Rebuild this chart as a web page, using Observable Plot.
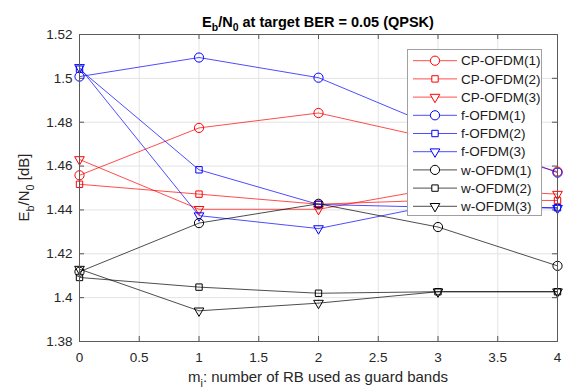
<!DOCTYPE html>
<html>
<head>
<meta charset="utf-8">
<script src="https://cdn.jsdelivr.net/npm/d3@7"></script>
<script src="https://cdn.jsdelivr.net/npm/@observablehq/plot@0.6"></script>
<style>
  html, body { margin: 0; padding: 0; background: #fff; }
  #wrap { position: relative; width: 574px; height: 390px; font-family: "Liberation Sans", Arial, sans-serif; }
  #legend { position: absolute; }
</style>
</head>
<body>
<div id="wrap"></div>
<script>
// ---- data ----
const mi = [0, 1, 2, 3, 4];
const seriesNames = ["CP-OFDM(1)", "CP-OFDM(2)", "CP-OFDM(3)", "f-OFDM(1)", "f-OFDM(2)", "f-OFDM(3)", "w-OFDM(1)", "w-OFDM(2)", "w-OFDM(3)"];
const seriesColors = ["#ff0000", "#ff0000", "#ff0000", "#0000ff", "#0000ff", "#0000ff", "#000000", "#000000", "#000000"];
const seriesSymbols = ["circle", "square", "triangle", "circle", "square", "triangle", "circle", "square", "triangle"];
const cp1 = [1.4558, 1.4774, 1.4842, 1.4720, 1.4575];
const cp2 = [1.4517, 1.4472, 1.4426, 1.4445, 1.4443];
const cp3 = [1.4630, 1.4403, 1.4403, 1.4500, 1.4472];
const f1  = [1.5008, 1.5095, 1.5003, 1.4775, 1.4570];
const f2  = [1.5042, 1.4583, 1.4425, 1.4412, 1.4410];
const f3  = [1.5050, 1.4374, 1.4315, 1.4425, 1.4408];
const w1  = [1.4118, 1.4340, 1.4428, 1.4322, 1.4145];
const w2  = [1.4092, 1.4048, 1.4020, 1.4027, 1.4027];
const w3  = [1.4130, 1.3940, 1.3975, 1.4027, 1.4027];
const seriesValues = [cp1, cp2, cp3, f1, f2, f3, w1, w2, w3];
const xTicks = [0, 0.5, 1, 1.5, 2, 2.5, 3, 3.5, 4];
const yTicks = [1.38, 1.40, 1.42, 1.44, 1.46, 1.48, 1.50, 1.52];

// tidy table
const rows = [];
seriesNames.forEach((name, i) => {
  seriesValues[i].forEach((v, j) => rows.push({x: mi[j], y: v, name, i}));
});

const W = 574, H = 390;
const mL = 79, mR = 17, mT = 34, mB = 49;
const plotH = H - mT - mB, plotW = W - mL - mR;
const textColor = "#262626";

const lineMarks = seriesNames.map((name, i) =>
  Plot.line(rows.filter(r => r.i === i), {x: "x", y: "y", stroke: seriesColors[i], strokeWidth: 0.7})
);
const symR = {circle: 4.6, square: 3.6, triangle: 3.6};
const dotMarks = seriesNames.map((name, i) =>
  Plot.dot(rows.filter(r => r.i === i), {
    x: "x", y: "y", stroke: seriesColors[i], fill: "none", strokeWidth: 1,
    symbol: seriesSymbols[i], r: symR[seriesSymbols[i]],
    rotate: seriesSymbols[i] === "triangle" ? 180 : 0
  })
);

const chart = Plot.plot({
  width: W, height: H,
  marginLeft: mL, marginRight: mR, marginTop: mT, marginBottom: mB,
  style: {fontFamily: '"Liberation Sans", Arial, sans-serif', fontSize: "13.5px", color: textColor, background: "#fff"},
  x: {domain: [0, 4]},
  y: {domain: [1.38, 1.52]},
  marks: [
    Plot.gridX(xTicks, {stroke: "#e3e3e3", strokeOpacity: 1}),
    Plot.gridY(yTicks, {stroke: "#e3e3e3", strokeOpacity: 1}),
    Plot.tickX(xTicks, {x: d => d, stroke: "#555", insetTop: plotH - 5}),
    Plot.tickX(xTicks, {x: d => d, stroke: "#555", insetBottom: plotH - 5}),
    Plot.tickY(yTicks, {y: d => d, stroke: "#555", insetRight: plotW - 5}),
    Plot.tickY(yTicks, {y: d => d, stroke: "#555", insetLeft: plotW - 5}),
    Plot.axisX(xTicks, {anchor: "bottom", tickSize: 0, tickPadding: 11, label: null, tickFormat: d => String(d), fill: textColor}),
    Plot.axisY(yTicks, {anchor: "left", tickSize: 0, tickPadding: 7, label: null, tickFormat: d => String(+d.toFixed(2)), fill: textColor}),
    ...lineMarks,
    ...dotMarks,
    Plot.frame({stroke: "#5a5a5a", strokeWidth: 1})
  ]
});

document.getElementById("wrap").appendChild(chart);

// text with subscripts (title & axis labels)
const svg = d3.select(chart);
function subText(g, parts, size) {
  let shifted = false;
  parts.forEach(p => {
    if (typeof p === "string") {
      g.append("tspan").attr("dy", shifted ? -size * 0.3 : 0).text(p);
      shifted = false;
    } else {
      g.append("tspan").attr("font-size", size * 0.72).attr("dy", size * 0.3).text(p.sub);
      shifted = true;
    }
  });
}
const title = svg.append("text")
  .attr("x", mL + plotW / 2).attr("y", 27)
  .attr("text-anchor", "middle").attr("font-size", 14.5).attr("font-weight", "bold").attr("fill", "#000");
subText(title, ["E", {sub: "b"}, "/N", {sub: "0"}, " at target BER = 0.05 (QPSK)"], 14.5);

const xl = svg.append("text")
  .attr("x", mL + plotW / 2).attr("y", 382)
  .attr("text-anchor", "middle").attr("font-size", 15).attr("fill", textColor);
subText(xl, ["m", {sub: "i"}, ": number of RB used as guard bands"], 15);

const yl = svg.append("text")
  .attr("transform", `translate(29,${mT + plotH / 2}) rotate(-90)`)
  .attr("text-anchor", "middle").attr("font-size", 15).attr("fill", textColor);
subText(yl, ["E", {sub: "b"}, "/N", {sub: "0"}, " [dB]"], 15);

// legend (inside plot, upper right)
const lg = d3.select("#wrap").append("svg").attr("id", "legend")
  .attr("width", 136).attr("height", 168)
  .style("left", "407px").style("top", "49px");
lg.append("rect").attr("x", 0.5).attr("y", 0.5).attr("width", 134).attr("height", 166)
  .attr("fill", "#fff").attr("stroke", "#a0a0a0");
const symGen = {circle: d3.symbolCircle, square: d3.symbolSquare, triangle: d3.symbolTriangle};
seriesNames.forEach((name, i) => {
  const cy = 11.7 + i * 18.2;
  const g = lg.append("g").attr("transform", `translate(0,${cy})`);
  g.append("line").attr("x1", 6).attr("x2", 50).attr("y1", 0).attr("y2", 0)
    .attr("stroke", seriesColors[i]).attr("stroke-width", 0.7);
  const s = seriesSymbols[i];
  const r = symR[s];
  g.append("path").attr("d", d3.symbol(symGen[s], Math.PI * r * r)())
    .attr("transform", `translate(28,0) rotate(${s === "triangle" ? 180 : 0})`)
    .attr("fill", "#fff").attr("stroke", seriesColors[i]).attr("stroke-width", 1);
  g.append("text").attr("x", 54).attr("y", 0).attr("dy", "0.35em")
    .attr("font-size", 13.5).attr("fill", "#1a1a1a").text(name);
});
</script>
</body>
</html>
